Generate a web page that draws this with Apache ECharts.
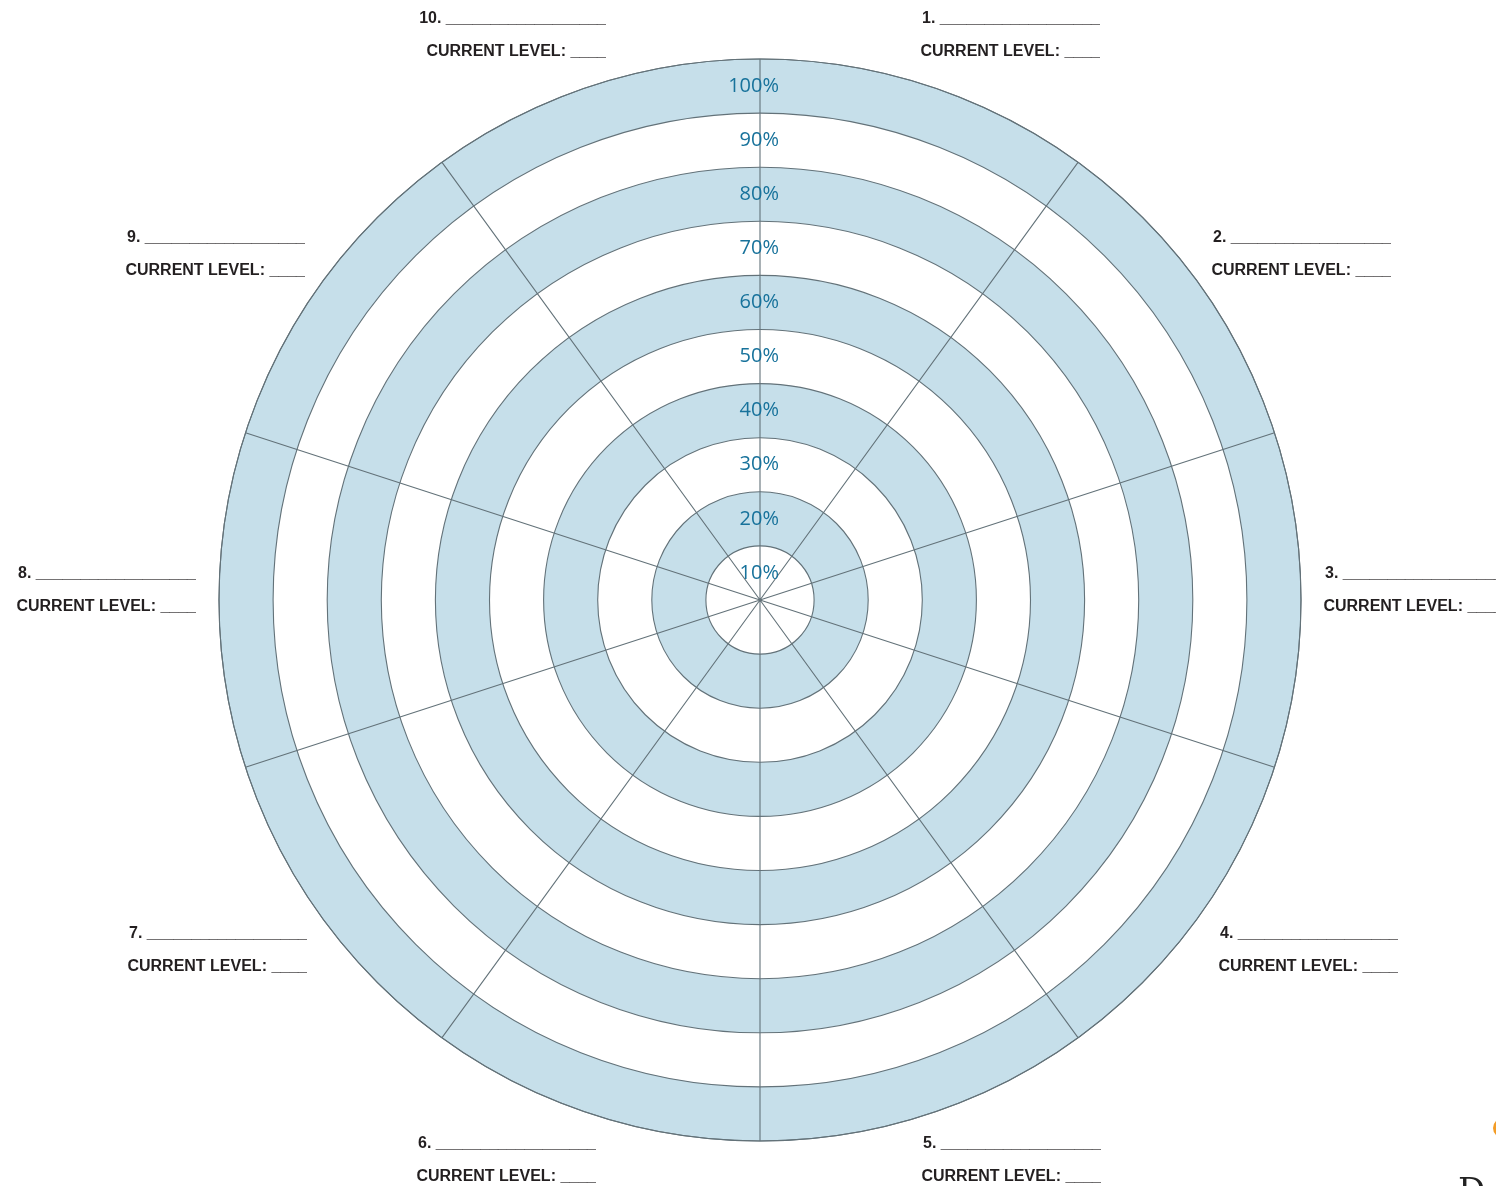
<!DOCTYPE html>
<html>
<head>
<meta charset="utf-8">
<script src="https://cdn.jsdelivr.net/npm/echarts@6/dist/echarts.min.js"></script>
<style>
html,body{margin:0;padding:0;background:#ffffff;}
#chart{width:1496px;height:1186px;}
</style>
</head>
<body>
<div id="chart"></div>
<script>
// ---- data ----
var areaNames = ['1.', '2.', '3.', '4.', '5.', '6.', '7.', '8.', '9.', '10.'];
var ringLabels = ['10%', '20%', '30%', '40%', '50%', '60%', '70%', '80%', '90%', '100%'];
var levelText = 'CURRENT LEVEL:';
var nameBlank = '__________________';
var levelBlank = '____';

// ---- layout (positions of the write-in labels: right edge, line-1 centre, line-2 centre) ----
var labelAnchors = [
  [1100, 19, 52], [1391, 238, 271], [1503, 574, 607], [1398, 934, 967], [1101, 1144, 1177],
  [596, 1144, 1177], [307, 934, 967], [196, 574, 607], [305, 238, 271], [606, 19, 52]
];

var lineColor = '#637279';
var bandBlue = '#c6dfea';
var labelFont = 'bold 16px "Liberation Sans", Arial, sans-serif';

var graphics = [];
areaNames.forEach(function (n, i) {
  var a = labelAnchors[i];
  graphics.push({
    type: 'text', x: a[0], y: a[1],
    style: { text: n + ' ' + nameBlank, font: labelFont, fill: '#231f20', align: 'right', verticalAlign: 'middle' }
  });
  graphics.push({
    type: 'text', x: a[0], y: a[2],
    style: { text: levelText + ' ' + levelBlank, font: labelFont, fill: '#231f20', align: 'right', verticalAlign: 'middle' }
  });
});
// cropped logo fragments at bottom-right corner
graphics.push({ type: 'circle', shape: { cx: 1503, cy: 1128, r: 10 }, style: { fill: '#f39c26' } });
graphics.push({ type: 'text', x: 1458, y: 1176, style: { text: 'D', font: '34px "DejaVu Serif", serif', fill: '#222', verticalAlign: 'top' } });

var chart = echarts.init(document.getElementById('chart'), null, { renderer: 'canvas' });
chart.setOption({
  animation: false,
  backgroundColor: '#ffffff',
  polar: [
    { center: [760, 600], radius: 541 },
    { center: [760, 600], radius: 541 }
  ],
  angleAxis: [
    {
      polarIndex: 0, type: 'category', data: areaNames, startAngle: 90, clockwise: true,
      axisLine: { show: false }, axisTick: { show: false }, axisLabel: { show: false },
      splitLine: { show: false }, z: 1
    },
    {
      polarIndex: 1, type: 'category', data: areaNames, startAngle: 90, clockwise: true, boundaryGap: true,
      axisLine: { show: true, lineStyle: { color: lineColor, width: 1.1 } },
      axisTick: { show: false }, axisLabel: { show: false },
      splitLine: { show: true, lineStyle: { color: lineColor, width: 1.1 } },
      z: 5
    }
  ],
  radiusAxis: [
    {
      polarIndex: 0, type: 'category', data: ringLabels, boundaryGap: true,
      axisLine: { show: false }, axisTick: { show: false }, axisLabel: { show: false },
      splitLine: { show: false },
      splitArea: { show: true, areaStyle: { color: ['#ffffff', bandBlue] } },
      z: 1
    },
    {
      polarIndex: 1, type: 'category', data: ringLabels, boundaryGap: true,
      axisLine: { show: false }, axisTick: { show: false },
      axisLabel: {
        show: true, interval: 0, margin: -19, align: 'right', verticalAlign: 'middle',
        color: '#17729b', fontSize: 20, fontFamily: '"Open Sans", "Noto Sans", sans-serif'
      },
      splitLine: { show: true, interval: 0, lineStyle: { color: lineColor, width: 1.1 } },
      splitArea: { show: false },
      z: 6
    }
  ],
  series: [],
  graphic: graphics
});
</script>
</body>
</html>
